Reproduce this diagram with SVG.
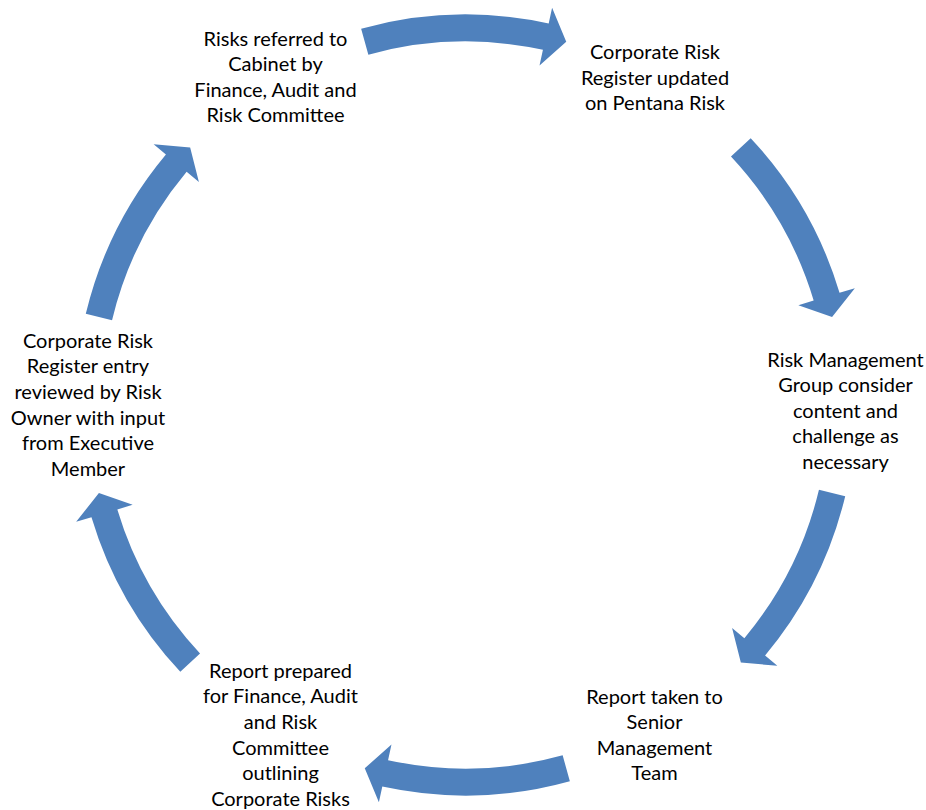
<svg xmlns="http://www.w3.org/2000/svg" width="926" height="810" viewBox="0 0 926 810">
<style>
.lbl{font-family:Lato,"Liberation Sans",sans-serif;font-size:20px;fill:#000;text-anchor:middle}
.arw{fill:#4F81BD;stroke:none}
</style>
<rect width="926" height="810" fill="#fff"/>
<g id="connectors">
<path class="arw" d="M361.14,28.70 A390.5,390.5 0 0 1 548.69,23.46 L552.10,7.83 L566.25,41.71 L539.53,65.47 L542.94,49.84 A363.5,363.5 0 0 0 368.36,54.72 Z"/>
<path class="arw" d="M750.70,138.17 A390.5,390.5 0 0 1 839.53,292.79 L854.85,288.19 L832.08,316.99 L798.34,305.14 L813.67,300.54 A363.5,363.5 0 0 0 730.97,156.62 Z"/>
<path class="arw" d="M845.21,496.16 A390.5,390.5 0 0 1 765.08,655.49 L777.35,665.75 L740.85,662.51 L732.09,627.90 L744.37,638.17 A363.5,363.5 0 0 0 818.96,489.86 Z"/>
<path class="arw" d="M569.86,781.30 A390.5,390.5 0 0 1 382.31,786.54 L378.90,802.17 L364.75,768.29 L391.47,744.53 L388.06,760.16 A363.5,363.5 0 0 0 562.64,755.28 Z"/>
<path class="arw" d="M180.30,671.83 A390.5,390.5 0 0 1 91.47,517.21 L76.15,521.81 L98.92,493.01 L132.66,504.86 L117.33,509.46 A363.5,363.5 0 0 0 200.03,653.38 Z"/>
<path class="arw" d="M85.79,313.84 A390.5,390.5 0 0 1 165.92,154.51 L153.65,144.25 L190.15,147.49 L198.91,182.10 L186.63,171.83 A363.5,363.5 0 0 0 112.04,320.14 Z"/>
</g>
<g id="node-cabinet">
<text class="lbl" x="275.5" y="45.5">Risks referred to</text>
<text class="lbl" x="275.5" y="71.1">Cabinet by</text>
<text class="lbl" x="275.5" y="96.7">Finance, Audit and</text>
<text class="lbl" x="275.5" y="122.3">Risk Committee</text>
</g>
<g id="node-register-updated">
<text class="lbl" x="655" y="59">Corporate Risk</text>
<text class="lbl" x="655" y="84.6">Register updated</text>
<text class="lbl" x="655" y="110.2">on Pentana Risk</text>
</g>
<g id="node-rmg">
<text class="lbl" x="845.5" y="366.5">Risk Management</text>
<text class="lbl" x="845.5" y="392.1">Group consider</text>
<text class="lbl" x="845.5" y="417.7">content and</text>
<text class="lbl" x="845.5" y="443.3">challenge as</text>
<text class="lbl" x="845.5" y="468.9">necessary</text>
</g>
<g id="node-smt">
<text class="lbl" x="654.5" y="703.5">Report taken to</text>
<text class="lbl" x="654.5" y="729.1">Senior</text>
<text class="lbl" x="654.5" y="754.7">Management</text>
<text class="lbl" x="654.5" y="780.3">Team</text>
</g>
<g id="node-report">
<text class="lbl" x="280.5" y="677.7">Report prepared</text>
<text class="lbl" x="280.5" y="703.3">for Finance, Audit</text>
<text class="lbl" x="280.5" y="728.9">and Risk</text>
<text class="lbl" x="280.5" y="754.5">Committee</text>
<text class="lbl" x="280.5" y="780.1">outlining</text>
<text class="lbl" x="280.5" y="805.7">Corporate Risks</text>
</g>
<g id="node-review">
<text class="lbl" x="88" y="347.7">Corporate Risk</text>
<text class="lbl" x="88" y="373.3">Register entry</text>
<text class="lbl" x="88" y="398.9">reviewed by Risk</text>
<text class="lbl" x="88" y="424.5">Owner with input</text>
<text class="lbl" x="88" y="450.1">from Executive</text>
<text class="lbl" x="88" y="475.7">Member</text>
</g>
</svg>
